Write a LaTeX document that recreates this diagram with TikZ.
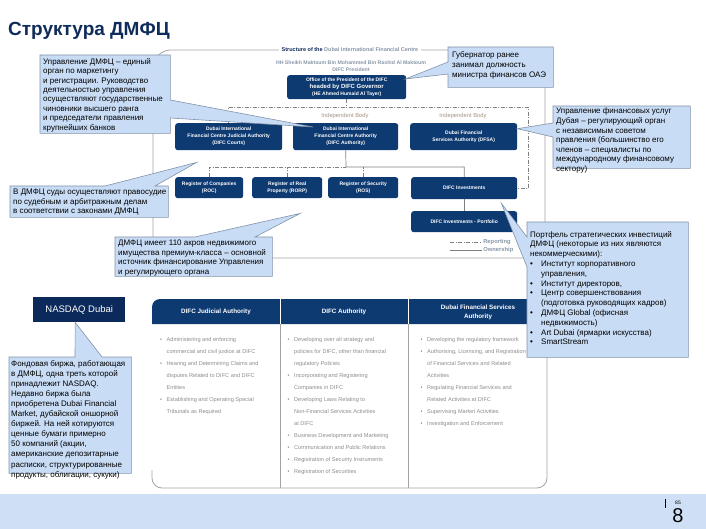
\documentclass[tikz,border=0pt]{standalone}
\usepackage{fontspec}
\setmainfont{Liberation Sans}
\usetikzlibrary{calc}
\pgfdeclarelayer{chart}
\pgfdeclarelayer{cl}
\pgfsetlayers{chart,cl,main}
\definecolor{navy}{HTML}{0E3A72}
\definecolor{navyd}{HTML}{0B2A5B}
\definecolor{titlec}{HTML}{0F2C5A}
\definecolor{cfill}{HTML}{C8DCF5}
\definecolor{cbord}{HTML}{8293A8}
\definecolor{framec}{HTML}{A3A3A3}
\definecolor{linec}{HTML}{7F7F7F}
\definecolor{greyt}{HTML}{8C8C8C}
\definecolor{bluet}{HTML}{8797A8}
\definecolor{tanc}{HTML}{A39282}
\definecolor{bandc}{HTML}{CFE0F6}
\newcommand{\bu}{\makebox[6.5pt][l]{\textbullet}}
\newcommand{\ind}{\hspace*{6.5pt}}
\newcommand{\cbu}{\makebox[11pt][l]{\textbullet}}
\newcommand{\cind}{\hspace*{11pt}}
\tikzset{
 orgbox/.style={fill=navy, rounded corners=2.5pt, text=white, align=center, inner sep=0pt, anchor=north west, font=\bfseries\fontsize{5}{7}\selectfont},
 geo/.style={inner sep=0pt, anchor=north west},
 cshape/.style={fill=cfill, draw=cbord, line width=0.6pt},
 ctext/.style={inner sep=0pt, anchor=north west, align=left, font=\fontsize{8}{9.6}\selectfont},
 rep/.style={draw=linec, line width=0.6pt, dash pattern=on 4pt off 1.5pt on 1pt off 1.5pt},
 own/.style={draw=linec, line width=0.7pt},
 frame/.style={draw=framec, line width=0.8pt, rounded corners=18pt},
 ibody/.style={text=tanc, font=\fontsize{5.8}{7}\selectfont, inner sep=0pt},
 thead/.style={text=white, font=\bfseries\fontsize{6.3}{9}\selectfont, align=center, inner sep=0pt},
 tbody/.style={text=greyt, font=\fontsize{5.6}{12}\selectfont, align=left, inner sep=0pt, anchor=north west},
 legend/.style={text=bluet, font=\bfseries\fontsize{5.8}{7}\selectfont, inner sep=1pt, anchor=west},
}
\begin{document}
\begin{tikzpicture}[x=1pt,y=-1pt]
\useasboundingbox (0,0) rectangle (706,529);
\begin{pgfonlayer}{chart}
% title
\node[anchor=west, inner sep=0pt, text=titlec, font=\bfseries\fontsize{19}{22}\selectfont] (title) at (8,31) {Структура ДМФЦ};
% frame of the structure chart
\draw[frame] (153,50) rectangle (545,258);
\node[fill=white, inner xsep=3pt, inner ysep=1pt, font=\bfseries\fontsize{5.5}{7}\selectfont] (ftitle) at (350,50) {\textcolor{titlec}{Structure of the} \textcolor{bluet}{Dubai International Financial Centre}};
\node[text=bluet, align=center, inner sep=0pt, font=\bfseries\fontsize{5.2}{6.5}\selectfont] (pres) at (351,66) {HH Sheikh Maktoum Bin Mohammed Bin Rashid Al Maktoum\\DIFC President};
% org boxes
\node[orgbox, minimum width=119pt, minimum height=24pt] (office) at (287,75) {Office of the President of the DIFC\\{\fontsize{6}{7}\selectfont headed by DIFC Governor}\\(HE Ahmed Humaid Al Tayer)};
\node[orgbox, minimum width=107pt, minimum height=27pt] (jud) at (175,123) {Dubai International\\Financial Centre Judicial Authority\\(DIFC Courts)};
\node[orgbox, minimum width=105pt, minimum height=27pt] (auth) at (293,123) {Dubai International\\Financial Centre Authority\\(DIFC Authority)};
\node[orgbox, minimum width=107pt, minimum height=27pt] (dfsa) at (410,123) {Dubai Financial\\Services Authority (DFSA)};
\node[orgbox, minimum width=68pt, minimum height=21pt] (roc) at (175,177) {Register of Companies\\(ROC)};
\node[orgbox, minimum width=70pt, minimum height=21pt] (rorp) at (252,177) {Register of Real\\Property (RORP)};
\node[orgbox, minimum width=70pt, minimum height=21pt] (ros) at (328,177) {Register of Security\\(ROS)};
\node[orgbox, minimum width=106pt, minimum height=22pt] (inv) at (411,177) {DIFC Investments};
\node[orgbox, minimum width=106pt, minimum height=21pt] (port) at (411,211) {DIFC Investments - Portfolio};
\node[ibody] (ib1) at (345,116) {Independent Body};
\node[ibody] (ib2) at (463,116) {Independent Body};
% connectors
\coordinate (hbR) at (528,107);
\coordinate (bus) at (346,167);
\draw[rep] (office.south) -- (office.south |- hbR);
\draw[rep] (jud.north) |- (hbR) |- (inv.east);
\draw[rep] (roc.north) |- (bus);
\draw[rep] (rorp.north) -- (rorp.north |- bus);
\draw[rep] (ros.north) -- (ros.north |- bus);
\draw[own] (auth.south) -- (bus) -| (inv.north);
\draw[own] (inv.south) -- (port.north);
% legend
\coordinate (lg1) at (450,242); \coordinate (lg2) at (482,242);
\coordinate (lg3) at (450,250); \coordinate (lg4) at (482,250);
\draw[rep] (lg1) -- (lg2) node[legend] (lrep) {Reporting};
\draw[own] (lg3) -- (lg4) node[legend] (lown) {Ownership};
% NASDAQ
\node[fill=navyd, text=white, minimum width=92pt, minimum height=25pt, inner sep=0pt, anchor=north west, font=\fontsize{9.5}{11}\selectfont] (nasdaq) at (33,297) {NASDAQ Dubai};
% table
\fill[navy] (152,324) [rounded corners=8pt] -- (152,299) -- (547,299) [sharp corners] -- (547,324) -- cycle;
\draw[white, line width=0.8pt] (280,299) -- (280,324) (408,299) -- (408,324);
\draw[framec, line width=0.8pt] (280,324) -- (280,488) (408,324) -- (408,488);
\draw[framec, line width=0.8pt, rounded corners=10pt] (152,470) -- (152,488) -- (547,488) -- (547,324);
\node[thead] (h1) at (216,312) {DIFC Judicial Authority};
\node[thead] (h2) at (344,312) {DIFC Authority};
\node[thead] (h3) at (478,312) {Dubai Financial Services\\Authority};
\node[tbody] (b1) at (160,337) {\bu Administering and enforcing\\ \ind commercial and civil justice at DIFC\\ \bu Hearing and Determining Claims and\\ \ind disputes Related to DIFC and DIFC\\ \ind Entities\\ \bu Establishing and Operating Special\\ \ind Tribunals as Required};
\node[tbody] (b2) at (287.5,337) {\bu Developing over all strategy and\\ \ind policies for DIFC, other than financial\\ \ind regulatory Policies\\ \bu Incorporating and Registering\\ \ind Companies in DIFC\\ \bu Developing Laws Relating to\\ \ind Non-Financial Services Activities\\ \ind at DIFC\\ \bu Business Development and Marketing\\ \bu Communication and Public Relations\\ \bu Registration of Security Instruments\\ \bu Registration of Securities};
\node[tbody] (b3) at (420.5,337) {\bu Developing the regulatory framework\\ \bu Authorising, Licensing, and Registration\\ \ind of Financial Services and Related\\ \ind Activities\\ \bu Regulating Financial Services and\\ \ind Related Activities at DIFC\\ \bu Supervising Market Activities\\ \bu Investigation and Enforcement};
% footer band
\fill[bandc] (0,494) rectangle (706,529);
\draw[black, line width=0.6pt] (665,499) -- (665,508);
\node[inner sep=0pt, font=\fontsize{5}{6}\selectfont] (pgs) at (678,503) {85};
\node[inner sep=0pt, font=\fontsize{20}{20}\selectfont] (pgb) at (678,516) {8};
\end{pgfonlayer}
% callout geometry
\node[geo, minimum width=130pt, minimum height=78pt] (c1) at (40,55) {};
\node[geo, minimum width=105pt, minimum height=40pt] (c2) at (448,47) {};
\node[geo, minimum width=137pt, minimum height=62pt] (c3) at (553,106) {};
\node[geo, minimum width=158pt, minimum height=31pt] (c4) at (10,186) {};
\node[geo, minimum width=157pt, minimum height=39pt] (c5) at (115,237) {};
\node[geo, minimum width=161pt, minimum height=135pt] (c6) at (527,222) {};
\node[geo, minimum width=122pt, minimum height=116pt] (c7) at (9,357) {};
\begin{pgfonlayer}{cl}
\filldraw[cshape] (c1.north west) -- (c1.north east) -- ($(c1.north east)+(0,45)$) -- ($(auth.north west)+(20,4)$) -- ($(c1.north east)+(0,63)$) -- (c1.south east) -- (c1.south west) -- cycle;
\filldraw[cshape] (c2.north west) -- (c2.north east) -- (c2.south east) -- (c2.south west) -- ($(c2.north west)+(0,27)$) -- ($(office.north east)+(-1,4)$) -- ($(c2.north west)+(0,15)$) -- cycle;
\filldraw[cshape] (c3.north west) -- (c3.north east) -- (c3.south east) -- (c3.south west) -- ($(c3.north west)+(0,31)$) -- ($(dfsa.east)+(0,-8)$) -- ($(c3.north west)+(0,17)$) -- cycle;
\filldraw[cshape] (c4.north west) -- ($(c4.north west)+(95,0)$) -- ($(jud.south)+(-32,12)$) -- ($(c4.north west)+(145,0)$) -- (c4.north east) -- (c4.south east) -- (c4.south west) -- cycle;
\filldraw[cshape] (c5.north west) -- ($(c5.north west)+(80,0)$) -- ($(rorp.south)+(13,15)$) -- ($(c5.north west)+(140,0)$) -- (c5.north east) -- (c5.south east) -- (c5.south west) -- cycle;
\filldraw[cshape] (c6.north west) -- (c6.north east) -- (c6.south east) -- (c6.south west) -- ($(c6.north west)+(0,45)$) -- ($(inv.south east)+(-16,4)$) -- ($(c6.north west)+(0,15)$) -- cycle;
\filldraw[cshape] (c7.north west) -- ($(c7.north west)+(66,0)$) -- ($(nasdaq.south)+(-4,0)$) -- ($(c7.north west)+(93,0)$) -- (c7.north east) -- (c7.south east) -- (c7.south west) -- cycle;
\end{pgfonlayer}
% callout texts
\node[ctext, font=\fontsize{8}{9.45}\selectfont] (t1) at ($(c1.north west)+(3,3)$) {Управление ДМФЦ – единый\\орган по маркетингу\\и регистрации. Руководство\\деятельностью управления\\осуществляют государственные\\чиновники высшего ранга\\и председатели правления\\крупнейших банков};
\node[ctext, font=\fontsize{8}{10}\selectfont] (t2) at ($(c2.north west)+(4,4)$) {Губернатор ранее\\занимал должность\\министра финансов ОАЭ};
\node[ctext] (t3) at ($(c3.north west)+(3,2)$) {Управление финансовых услуг\\Дубая – регулирующий орган\\с независимым советом\\правления (большинство его\\членов – специалисты по\\международному финансовому\\сектору)};
\node[ctext, font=\fontsize{8}{9.3}\selectfont] (t4) at ($(c4.north west)+(3,3)$) {В ДМФЦ суды осуществляют правосудие\\по судебным и арбитражным делам\\в соответствии с законами ДМФЦ};
\node[ctext] (t5) at ($(c5.north west)+(3,3)$) {ДМФЦ имеет 110 акров недвижимого\\имущества премиум-класса – основной\\источник финансирование Управления\\и регулирующего органа};
\node[ctext, font=\fontsize{8}{9.8}\selectfont] (t6) at ($(c6.north west)+(3,9)$) {Портфель стратегических инвестиций\\ДМФЦ (некоторые из них являются\\некоммерческими):\\\cbu Институт корпоративного\\\cind управления,\\\cbu Институт директоров,\\\cbu Центр совершенствования\\\cind (подготовка руководящих кадров)\\\cbu ДМФЦ Global (офисная\\\cind недвижимость)\\\cbu Art Dubai (ярмарки искусства)\\\cbu SmartStream};
\node[ctext, font=\fontsize{8}{10.1}\selectfont] (t7) at ($(c7.north west)+(2,3)$) {Фондовая биржа, работающая\\в ДМФЦ, одна треть которой\\принадлежит NASDAQ.\\ Недавно биржа была\\приобретена Dubai Financial\\Market, дубайской оншорной\\биржей. На ней котируются\\ценные бумаги примерно\\50 компаний (акции,\\американские депозитарные\\расписки, структурированные\\продукты, облигации, сукуки)};
\end{tikzpicture}
\end{document}
